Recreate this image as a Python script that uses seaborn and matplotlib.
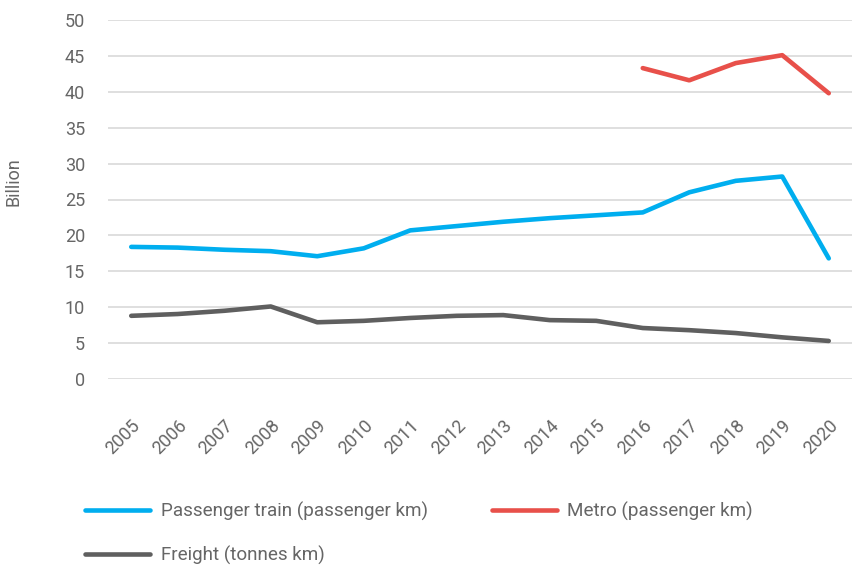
import matplotlib
matplotlib.use("Agg")
import matplotlib.pyplot as plt
import seaborn as sns
import pandas as pd
import numpy as np

years = list(range(2005, 2021))
passenger = [18.4, 18.3, 18.0, 17.8, 17.1, 18.2, 20.7, 21.3, 21.9, 22.4, 22.8, 23.2, 26.0, 27.6, 28.2, 16.8]
metro = [np.nan] * 11 + [43.3, 41.6, 44.0, 45.1, 39.8]
freight = [8.8, 9.05, 9.5, 10.1, 7.9, 8.1, 8.5, 8.8, 8.9, 8.2, 8.1, 7.1, 6.8, 6.4, 5.8, 5.3]

df = pd.DataFrame({"Year": years, "Passenger": passenger, "Metro": metro, "Freight": freight})

sns.set_theme(style="white")
plt.rcParams['font.family'] = ['Roboto', 'DejaVu Sans']

fig, ax = plt.subplots(figsize=(8.52, 5.65), dpi=100)
fig.subplots_adjust(left=108 / 852, right=1.0, top=1 - 20 / 565, bottom=1 - 379 / 565)

series = [
    ("Passenger", "Passenger train (passenger km)", "#00AEEF"),
    ("Metro", "Metro (passenger km)", "#E8504A"),
    ("Freight", "Freight (tonnes km)", "#5F5F5F"),
]
for col, label, color in series:
    sns.lineplot(data=df, x="Year", y=col, ax=ax, color=color, linewidth=3.3,
                 label=label, solid_capstyle="round")

ax.set_ylim(0, 50)
ax.set_xlim(2004.5, 2020.5)
ax.set_yticks(range(0, 51, 5))
ax.set_xticks(years)
ax.set_xticklabels([str(y) for y in years], rotation=45, ha="right",
                   rotation_mode="anchor")
ax.tick_params(axis="both", colors="#666666", labelsize=13, length=0)
ax.tick_params(axis="x", pad=27)
ax.tick_params(axis="y", pad=16.5)
ax.yaxis.grid(True, color="#D9D9D9", linewidth=1.2)
ax.set_axisbelow(True)
for s in ax.spines.values():
    s.set_visible(False)
ax.set_xlabel("")
ax.set_ylabel("Billion", color="#666666", fontsize=13)
ax.yaxis.set_label_coords((23 - 108) / 744, (379 - 182) / 359)

handles, labels = ax.get_legend_handles_labels()
ax.get_legend().remove()
order = [0, 2, 1]
fig.legend([handles[i] for i in order], [labels[i] for i in order],
           loc="upper left", bbox_to_anchor=(85 / 852, 1 - 502 / 565), ncol=2,
           frameon=False, fontsize=13.6, labelcolor="#666666", handlelength=3.45,
           columnspacing=3.4, labelspacing=1.3, handletextpad=0.55,
           borderpad=0, borderaxespad=0)

fig.savefig("out.png", dpi=100)
